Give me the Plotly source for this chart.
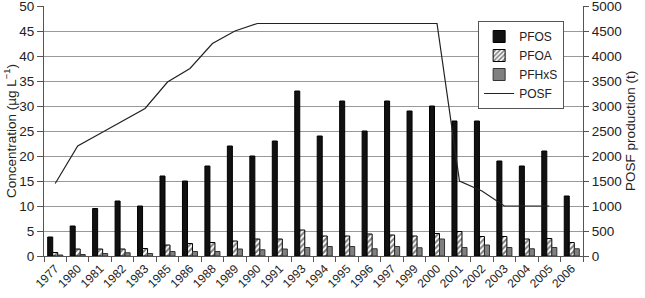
import plotly.graph_objects as go

years = ["1977", "1980", "1981", "1982", "1983", "1985", "1986", "1988", "1989", "1990",
         "1991", "1993", "1994", "1995", "1996", "1997", "1999", "2000", "2001", "2002",
         "2003", "2004", "2005", "2006"]
pfos = [3.8, 6, 9.5, 11, 10, 16, 15, 18, 22, 20, 23, 33, 24, 31, 25, 31, 29, 30, 27, 27,
        19, 18, 21, 12]
pfoa = [0.7, 1.4, 1.4, 1.4, 1.5, 2.2, 2.5, 2.7, 3.0, 3.4, 3.4, 5.2, 4.0, 4.0, 4.4, 4.2,
        4.0, 4.5, 4.9, 3.9, 3.9, 3.4, 3.5, 2.7]
pfhxs = [0.2, 0.3, 0.5, 0.65, 0.5, 0.9, 0.9, 0.9, 1.4, 1.25, 1.4, 1.7, 1.9, 1.9, 1.45, 1.9,
         1.65, 3.4, 1.7, 2.2, 1.7, 1.45, 1.7, 1.45]
posf = [1450, 2200, 2450, 2700, 2950, 3480, 3750, 4250, 4500, 4650, 4650, 4650, 4650, 4650,
        4650, 4650, 4650, 4650, 1500, 1300, 1000, 1000, 1000, None]

FONT = "Liberation Sans, Arial, sans-serif"
FS = 13.5

fig = go.Figure()
fig.add_trace(go.Bar(x=years, y=pfos, name="PFOS",
                     marker=dict(color="#111111", line=dict(color="#000000", width=1))))
fig.add_trace(go.Bar(x=years, y=pfoa, name="PFOA",
                     marker=dict(color="white", line=dict(color="#000000", width=1),
                                 pattern=dict(shape="/", fgcolor="#000000", bgcolor="white",
                                              size=4, solidity=0.5))))
fig.add_trace(go.Bar(x=years, y=pfhxs, name="PFHxS",
                     marker=dict(color="#808080", line=dict(color="#333333", width=1))))
fig.add_trace(go.Scatter(x=years, y=posf, name="POSF", yaxis="y2", mode="lines",
                         line=dict(color="#222222", width=1.2), connectgaps=False))

fig.update_layout(
    width=645, height=298,
    margin=dict(l=44, r=62, t=6, b=42, autoexpand=False),
    paper_bgcolor="white", plot_bgcolor="white",
    barmode="group", bargap=0.33, bargroupgap=0,
    font=dict(family=FONT, size=FS, color="#222222"),
    showlegend=True,
    legend=dict(x=0.965, y=0.94, xanchor="right", yanchor="top",
                bgcolor="white", bordercolor="#555555", borderwidth=1,
                font=dict(size=12), tracegroupgap=0, itemwidth=30,
                traceorder="normal"),
    xaxis=dict(type="category", tickangle=-45, ticks="outside", tickson="boundaries",
               ticklen=5, tickcolor="#555555", showline=True, linecolor="#555555",
               linewidth=1, showgrid=False, tickfont=dict(size=12), automargin=False),
    yaxis=dict(range=[0, 50], dtick=5, ticks="outside", ticklen=6, tickcolor="#555555",
               showline=True, linecolor="#555555", showgrid=True, gridcolor="#999999",
               gridwidth=1, zeroline=False, tickfont=dict(size=FS),
               ticklabeloverflow="allow", automargin=False),
    yaxis2=dict(range=[0, 5000], dtick=500, overlaying="y", side="right",
                ticks="outside", ticklen=5, tickcolor="#555555", showline=True,
                linecolor="#555555", showgrid=False, zeroline=False,
                tickfont=dict(size=FS), ticklabeloverflow="allow", automargin=False),
    annotations=[
        dict(text="Concentration (µg L<sup>−1</sup>)", xref="paper", yref="paper",
             x=-0.063, y=0.5, xanchor="center", yanchor="middle", textangle=-90,
             showarrow=False, font=dict(size=FS)),
        dict(text="POSF production (t)", xref="paper", yref="paper",
             x=1.087, y=0.5, xanchor="center", yanchor="middle", textangle=-90,
             showarrow=False, font=dict(size=FS)),
    ],
)

fig.write_html("out.html", config={"displayModeBar": False},
               post_script="document.body.style.margin='0';document.body.style.padding='0';")
